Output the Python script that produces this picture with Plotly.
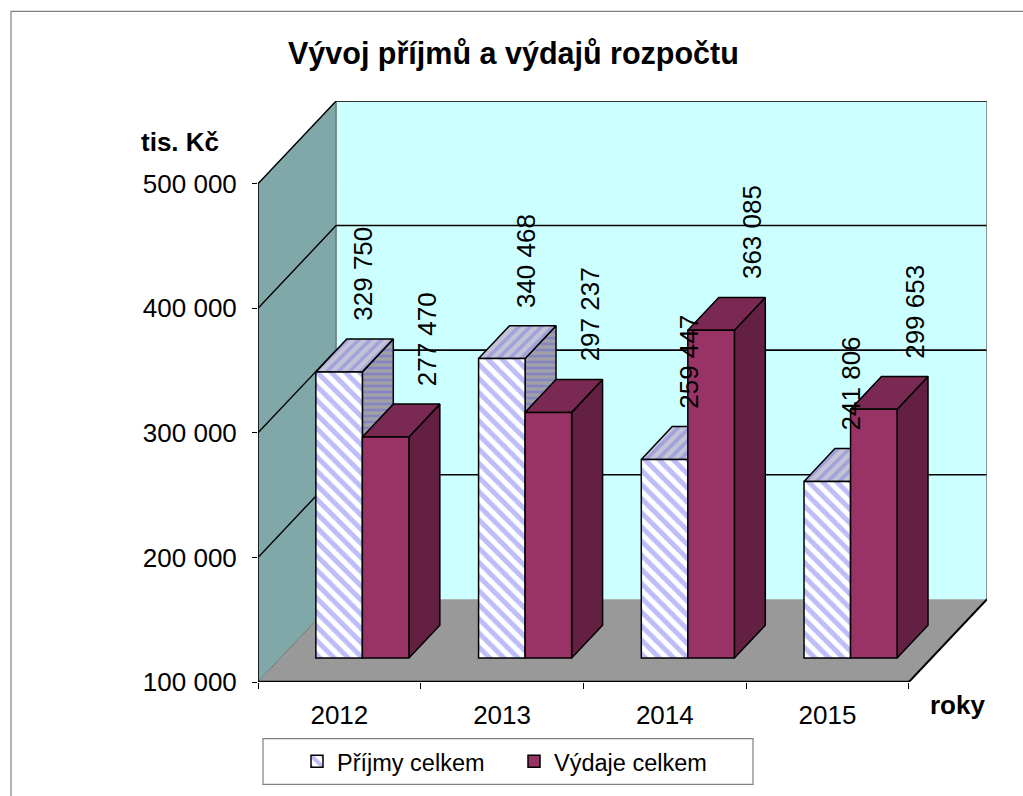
import plotly.graph_objects as go

# ---------------- data ----------------
YEARS = ["2012", "2013", "2014", "2015"]
PRIJMY = [329750, 340468, 259447, 241806]
VYDAJE = [277470, 297237, 363085, 299653]
SERIES_NAMES = ["Příjmy celkem", "Výdaje celkem"]
Y_TICKS = [100000, 200000, 300000, 400000, 500000]
Y_TICK_TEXT = ["100 000", "200 000", "300 000", "400 000", "500 000"]
TITLE = "Vývoj příjmů a výdajů rozpočtu"
Y_TITLE = "tis. Kč"
X_TITLE = "roky"

# ---------------- geometry / style ----------------
FONT = "Liberation Sans, Arial, sans-serif"
W, H = 1023, 796
PL, PR, PT, PB = 258, 987, 101, 685          # plot area in px
Y_MIN, Y_MAX = 100000, 566400
X_MIN, X_MAX = -0.5, 3.98
DX, DY = 0.48, 66400          # depth of the whole 3D box (data units)
FX, FY = 0.1415, 19200        # shift of the bar front plane
BW = 0.286                    # bar width
BDX, BDY = 0.19, 26400        # bar depth
LBL_P_DX, LBL_V_DX = -0.045, 0.065   # label nudges relative to bar back centre

BACK_WALL = "#CCFFFF"
SIDE_WALL = "#80A8A8"
FLOOR = "#999999"
V_FRONT, V_TOP, V_SIDE = "#993366", "#7A2A52", "#632042"
P_STRIPE = "#7B7BF0"


def paper_x(px):
    return (px - PL) / (PR - PL)


def paper_y(py):
    return (PB - py) / (PB - PT)


def fmt(v):
    return f"{v:,}".replace(",", " ")


def faces(vals, left_off):
    sx, sy, tx, ty = [], [], [], []
    for i, v in enumerate(vals):
        xl = i + left_off
        xr = xl + BW
        sx += [xr, xr, xr + BDX, xr + BDX, xr, None]
        sy += [Y_MIN, v, v + BDY, Y_MIN + BDY, Y_MIN, None]
        tx += [xl, xr, xr + BDX, xl + BDX, xl, None]
        ty += [v, v, v + BDY, v + BDY, v, None]
    return sx, sy, tx, ty


xs = list(range(len(YEARS)))
fig = go.Figure()

# ----- Příjmy side / top faces -----
psx, psy, ptx, pty = faces(PRIJMY, -BW)
fig.add_trace(go.Scatter(x=psx, y=psy, xaxis="x2", yaxis="y2", mode="lines", fill="toself",
                         fillcolor="#A0A0A6",
                         fillpattern=dict(shape="-", bgcolor="#A0A0A6", fgcolor="#6A6AD8", size=6, solidity=0.45),
                         line=dict(color="black", width=1.5), showlegend=False, hoverinfo="skip"))
fig.add_trace(go.Scatter(x=ptx, y=pty, xaxis="x2", yaxis="y2", mode="lines", fill="toself",
                         fillcolor="#C4C4D6",
                         fillpattern=dict(shape="/", bgcolor="#C4C4D6", fgcolor="#8080E0", size=8, solidity=0.45),
                         line=dict(color="black", width=1.5), showlegend=False, hoverinfo="skip"))
# ----- Příjmy front -----
fig.add_trace(go.Bar(x=xs, y=[v - Y_MIN for v in PRIJMY], base=Y_MIN, xaxis="x3", yaxis="y3",
                     width=BW, offset=-BW, name=SERIES_NAMES[0],
                     marker=dict(color="white", line=dict(color="black", width=1.5),
                                 pattern=dict(shape="\\", fgcolor=P_STRIPE, bgcolor="white", size=10, solidity=0.5)),
                     customdata=PRIJMY, hovertemplate="%{customdata}<extra></extra>"))
# ----- Výdaje side / top faces -----
vsx, vsy, vtx, vty = faces(VYDAJE, 0)
fig.add_trace(go.Scatter(x=vsx, y=vsy, xaxis="x4", yaxis="y4", mode="lines", fill="toself",
                         fillcolor=V_SIDE, line=dict(color="black", width=1.5),
                         showlegend=False, hoverinfo="skip"))
fig.add_trace(go.Scatter(x=vtx, y=vty, xaxis="x4", yaxis="y4", mode="lines", fill="toself",
                         fillcolor=V_TOP, line=dict(color="black", width=1.5),
                         showlegend=False, hoverinfo="skip"))
# ----- Výdaje front -----
fig.add_trace(go.Bar(x=xs, y=[v - Y_MIN for v in VYDAJE], base=Y_MIN, xaxis="x5", yaxis="y5",
                     width=BW, offset=0, name=SERIES_NAMES[1],
                     marker=dict(color=V_FRONT, line=dict(color="black", width=1.5)),
                     customdata=VYDAJE, hovertemplate="%{customdata}<extra></extra>"))

# ----- shapes: walls, floor, grid -----
shapes = []
# outer chart border
shapes.append(dict(type="rect", xref="paper", yref="paper", x0=paper_x(11), x1=paper_x(1060),
                   y0=paper_y(830), y1=paper_y(11), line=dict(color="#808080", width=1.2),
                   fillcolor="rgba(0,0,0,0)", layer="below"))
# back wall
shapes.append(dict(type="rect", xref="x", yref="y", x0=X_MIN + DX, x1=X_MAX, y0=Y_MIN + DY, y1=Y_MAX,
                   fillcolor=BACK_WALL, line=dict(width=0), layer="below"))
# left wall
shapes.append(dict(type="path", xref="x", yref="y",
                   path=f"M {X_MIN},{Y_MIN} L {X_MIN},{Y_TICKS[-1]} L {X_MIN + DX},{Y_TICKS[-1] + DY} "
                        f"L {X_MIN + DX},{Y_MIN + DY} Z",
                   fillcolor=SIDE_WALL, line=dict(color="#505050", width=1), layer="below"))
# floor
shapes.append(dict(type="path", xref="x", yref="y",
                   path=f"M {X_MIN},{Y_MIN} L {X_MAX - DX},{Y_MIN} L {X_MAX},{Y_MIN + DY} "
                        f"L {X_MIN + DX},{Y_MIN + DY} Z",
                   fillcolor=FLOOR, line=dict(width=0), layer="below"))
# gridlines (back wall + left wall)
for t in Y_TICKS[1:]:
    shapes.append(dict(type="line", xref="x", yref="y", x0=X_MIN + DX, x1=X_MAX, y0=t + DY, y1=t + DY,
                       line=dict(color="black", width=1.6), layer="below"))
    shapes.append(dict(type="line", xref="x", yref="y", x0=X_MIN, x1=X_MIN + DX, y0=t, y1=t + DY,
                       line=dict(color="black", width=1.4), layer="below"))
# back wall right / top edges
shapes.append(dict(type="line", xref="x", yref="y", x0=X_MAX, x1=X_MAX, y0=Y_MIN + DY, y1=Y_MAX,
                   line=dict(color="#707070", width=1.5), layer="below"))
shapes.append(dict(type="line", xref="x", yref="y", x0=X_MIN + DX, x1=X_MAX, y0=Y_MAX, y1=Y_MAX,
                   line=dict(color="#303030", width=1.5), layer="below"))
# front y axis line
shapes.append(dict(type="line", xref="x", yref="y", x0=X_MIN, x1=X_MIN, y0=Y_MIN, y1=Y_TICKS[-1],
                   line=dict(color="black", width=1.5), layer="below"))
# floor front & right edges
shapes.append(dict(type="line", xref="x", yref="y", x0=X_MIN, x1=X_MAX - DX, y0=Y_MIN, y1=Y_MIN,
                   line=dict(color="black", width=2.5), layer="below"))
shapes.append(dict(type="line", xref="x", yref="y", x0=X_MAX - DX, x1=X_MAX, y0=Y_MIN, y1=Y_MIN + DY,
                   line=dict(color="black", width=2), layer="below"))
# legend box
shapes.append(dict(type="rect", xref="paper", yref="paper", x0=paper_x(263), x1=paper_x(753),
                   y0=paper_y(788), y1=paper_y(742), line=dict(color="#808080", width=1.2),
                   fillcolor="white", layer="below"))

# ----- annotations -----
ann = []
ann.append(dict(xref="paper", yref="paper", x=paper_x(513), y=paper_y(53), text=f"<b>{TITLE}</b>",
                showarrow=False, font=dict(size=30.5, color="black", family=FONT),
                xanchor="center", yanchor="middle"))
ann.append(dict(xref="paper", yref="paper", x=paper_x(180), y=paper_y(142), text=f"<b>{Y_TITLE}</b>",
                showarrow=False, font=dict(size=26, color="black", family=FONT),
                xanchor="center", yanchor="middle"))
ann.append(dict(xref="paper", yref="paper", x=paper_x(957), y=paper_y(708), text=f"<b>{X_TITLE}</b>",
                showarrow=False, font=dict(size=26, color="black", family=FONT),
                xanchor="center", yanchor="middle"))
for i, v in enumerate(PRIJMY):
    ann.append(dict(xref="x2", yref="y2", x=i - BW / 2 + BDX + LBL_P_DX, y=v + BDY, text=fmt(v),
                    textangle=-90, showarrow=False, font=dict(size=26, color="black", family=FONT),
                    xanchor="center", yanchor="bottom", yshift=16))
for i, v in enumerate(VYDAJE):
    ann.append(dict(xref="x4", yref="y4", x=i + BW / 2 + BDX + LBL_V_DX, y=v + BDY, text=fmt(v),
                    textangle=-90, showarrow=False, font=dict(size=26, color="black", family=FONT),
                    xanchor="center", yanchor="bottom", yshift=16))

overlay_x = dict(overlaying="x", range=[X_MIN - FX, X_MAX - FX], visible=False, fixedrange=True)
overlay_y = dict(overlaying="y", range=[Y_MIN - FY, Y_MAX - FY], visible=False, fixedrange=True)

fig.update_layout(
    width=W, height=H,
    margin=dict(l=PL, r=W - PR, t=PT, b=H - PB),
    paper_bgcolor="white", plot_bgcolor="rgba(0,0,0,0)",
    font=dict(family=FONT, color="black"),
    showlegend=True,
    legend=dict(orientation="h", x=paper_x(514), xanchor="center", y=paper_y(765), yanchor="middle",
                font=dict(size=23.5, family=FONT), bgcolor="rgba(0,0,0,0)", borderwidth=0,
                entrywidth=172, itemwidth=30,
                itemclick=False, itemdoubleclick=False),
    xaxis=dict(range=[X_MIN, X_MAX], tickvals=xs, ticktext=YEARS, ticks="", showgrid=False,
               zeroline=False, showline=False, tickfont=dict(size=26), ticklabelstandoff=15,
               minor=dict(tickvals=[i - 0.5 for i in range(len(YEARS) + 1)], ticks="outside",
                          ticklen=6, tickcolor="black", tickwidth=1, showgrid=False),
               fixedrange=True),
    yaxis=dict(range=[Y_MIN, Y_MAX], tickvals=Y_TICKS, ticktext=Y_TICK_TEXT, ticks="outside",
               ticklen=5, tickcolor="black", showgrid=False, zeroline=False, showline=False,
               tickfont=dict(size=26), ticklabelstandoff=10, fixedrange=True),
    xaxis2=overlay_x, yaxis2=overlay_y,
    xaxis3=overlay_x, yaxis3=overlay_y,
    xaxis4=overlay_x, yaxis4=overlay_y,
    xaxis5=overlay_x, yaxis5=overlay_y,
    shapes=shapes, annotations=ann,
)

fig.write_html("out.html", config={"displayModeBar": False},
               post_script="document.body.style.margin='0';")
